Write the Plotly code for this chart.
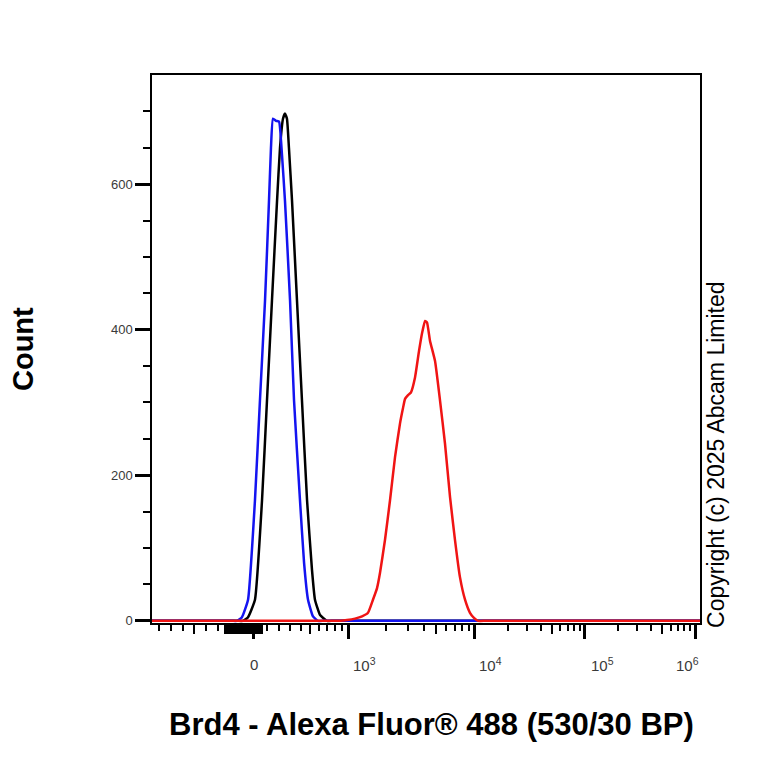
import math
import plotly.graph_objects as go

# X positions are in display units of the biexponential (logicle-like) axis:
# 0 -> 0, 10^3 -> 0.853, 10^4 -> 2, 10^5 -> 3, 10^6 -> 4
blue_x = [-0.925, -0.500, -0.200, -0.154, -0.109, -0.054, 0.009, 0.054, 0.100, 0.136, 0.154, 0.172, 0.200,
          0.227, 0.254, 0.281, 0.327, 0.363, 0.417, 0.454, 0.490, 0.535, 0.580, 0.640, 1.500, 3.000, 4.045]
blue_y = [0, 0, 0, 0, 5, 29, 166, 303, 440, 577, 650, 690, 687, 686, 640, 577, 440, 303, 166, 80, 29, 6, 0, 0,
          0, 0, 0]

black_x = [-0.925, -0.500, -0.150, -0.100, -0.054, 0.009, 0.073, 0.118, 0.163, 0.209, 0.236, 0.263, 0.281,
           0.299, 0.317, 0.345, 0.390, 0.435, 0.481, 0.526, 0.553, 0.599, 0.662, 0.720, 1.500, 3.000, 4.045]
black_y = [0, 0, 0, 0, 5, 29, 166, 303, 440, 577, 650, 690, 697, 690, 650, 577, 440, 303, 166, 70, 29, 8, 0, 0,
           0, 0, 0]

red_x = [-0.925, -0.400, 0.200, 0.700, 0.780, 0.844, 0.916, 0.980, 1.034, 1.079, 1.116, 1.143, 1.188,
         1.234, 1.279, 1.324, 1.351, 1.370, 1.397, 1.424, 1.460, 1.497, 1.524,
         1.551, 1.569, 1.596, 1.642, 1.687, 1.732, 1.778, 1.823, 1.868, 1.914,
         1.959, 1.995, 2.032, 2.100, 2.600, 3.300, 4.045]
red_y = [0, 0, 0, 0, 0, 1, 3, 6, 11, 29, 45, 66, 111,
         166, 225, 271, 292, 305, 310, 314, 334, 371, 395,
         412, 410, 385, 357, 303, 244, 170, 111, 60, 29,
         11, 4, 0, 0, 0, 0, 0]

x_tick_values = [0, 1e3, 1e4, 1e5, 1e6]
x_tick_labels = ["0", "10<sup>3</sup>", "10<sup>4</sup>", "10<sup>5</sup>", "10<sup>6</sup>"]
y_tick_values = [0, 200, 400, 600]
y_minor_values = [50, 100, 150, 250, 300, 350, 450, 500, 550, 650, 700]

X_RANGE = [-0.925, 4.045]
Y_RANGE = [-3, 750]

# axis transform (value -> display units) used for tick placement
DEC_POS = {3: 0.853, 4: 2.0, 5: 3.0, 6: 4.0}


def disp(v):
    if v >= 1000:
        k = min(int(math.floor(math.log10(v) + 1e-9)), 5)
        a, b = DEC_POS[k], DEC_POS[k + 1]
        return a + (b - a) * (math.log10(v) - k)
    if v >= 0:
        return 0.853 * math.asinh(v / 550) / math.asinh(1000 / 550)
    return v * 0.00108


major_u = [disp(v) for v in x_tick_values]
short_vals = [100, 200, 300, 400, 600, 700, 800, 900, -300, -400, -600, -700, -800]
for k in (3, 4, 5):
    short_vals += [m * 10 ** k for m in (2, 3, 4, 6, 7, 8, 9)]
medium_vals = [500, 5000, 50000, 500000, -500] + [v for v in range(-240, 70, 10) if v != 0]
short_u = [disp(v) for v in short_vals]
medium_u = [disp(v) for v in medium_vals]

line_style = dict(width=2.5, shape="spline", smoothing=0.4)
fig = go.Figure()
fig.add_trace(go.Scatter(x=black_x, y=black_y, mode="lines",
                         line=dict(color="#000000", **line_style),
                         hoverinfo="skip", showlegend=False))
fig.add_trace(go.Scatter(x=blue_x, y=blue_y, mode="lines",
                         line=dict(color="#1414f0", **line_style),
                         hoverinfo="skip", showlegend=False))
fig.add_trace(go.Scatter(x=red_x, y=red_y, mode="lines",
                         line=dict(color="#f01414", **line_style),
                         hoverinfo="skip", showlegend=False))
fig.add_trace(go.Scatter(x=[None], y=[None], xaxis="x2", mode="lines",
                         hoverinfo="skip", showlegend=False))

# page body has an 8px margin, so the plot box is pulled up/left by 8px
fig.update_layout(
    width=768, height=768,
    margin=dict(l=144, r=76, t=67, b=153),
    paper_bgcolor="white", plot_bgcolor="white",
    font=dict(family="Liberation Sans, Arial, sans-serif", color="#333333"),
    xaxis=dict(range=X_RANGE, showgrid=False, zeroline=False,
               showline=True, linecolor="black", linewidth=1.5, mirror=True,
               tickmode="array", tickvals=major_u,
               ticks="outside", ticklen=14, tickwidth=3, tickcolor="black",
               showticklabels=False,
               minor=dict(tickmode="array", tickvals=short_u, ticks="outside",
                          ticklen=6, tickwidth=1.5, tickcolor="black", showgrid=False)),
    xaxis2=dict(range=X_RANGE, overlaying="x", anchor="y", side="bottom",
                showgrid=False, zeroline=False, showline=False,
                tickmode="array", tickvals=medium_u, ticks="outside",
                ticklen=10, tickwidth=1.5, tickcolor="black", showticklabels=False),
    yaxis=dict(range=Y_RANGE, showgrid=False, zeroline=False,
               showline=True, linecolor="black", linewidth=1.5, mirror=True,
               tickmode="array", tickvals=y_tick_values,
               ticktext=[str(v) for v in y_tick_values],
               ticks="outside", ticklen=15, tickwidth=3, tickcolor="black",
               tickfont=dict(size=13, color="#3a3a3a"),
               minor=dict(tickmode="array", tickvals=y_minor_values, ticks="outside",
                          ticklen=7, tickwidth=1.5, tickcolor="black", showgrid=False)),
)

# x tick labels (offset the way the cytometry software draws them)
label_shift = [0, 3, 2, 4, -21]
label_anchor = ["center", "left", "left", "left", "left"]
for u, txt, sh, anc in zip(major_u, x_tick_labels, label_shift, label_anchor):
    fig.add_annotation(x=u, xref="x", y=-0.075, yref="paper", text=txt,
                       showarrow=False, xanchor=anc, yanchor="middle", xshift=sh,
                       font=dict(size=15, color="#3a3a3a"))

fig.add_annotation(x=0.51, y=-0.186, xref="paper", yref="paper",
                   text="<b>Brd4 - Alexa Fluor® 488 (530/30 BP)</b>", showarrow=False,
                   xanchor="center", yanchor="middle",
                   font=dict(size=31, color="black", family="Liberation Sans, Arial, sans-serif"))
fig.add_annotation(x=-0.2354, y=0.5, xref="paper", yref="paper",
                   text="<b>Count</b>", showarrow=False, textangle=-90,
                   xanchor="center", yanchor="middle",
                   font=dict(size=29, color="black", family="Liberation Sans, Arial, sans-serif"))
fig.add_annotation(x=1.029, y=0.3066, xref="paper", yref="paper",
                   text="Copyright (c) 2025 Abcam Limited", showarrow=False, textangle=-90,
                   xanchor="center", yanchor="middle",
                   font=dict(size=23, color="black", family="Liberation Sans, Arial, sans-serif"))

fig.write_html("out.html")
